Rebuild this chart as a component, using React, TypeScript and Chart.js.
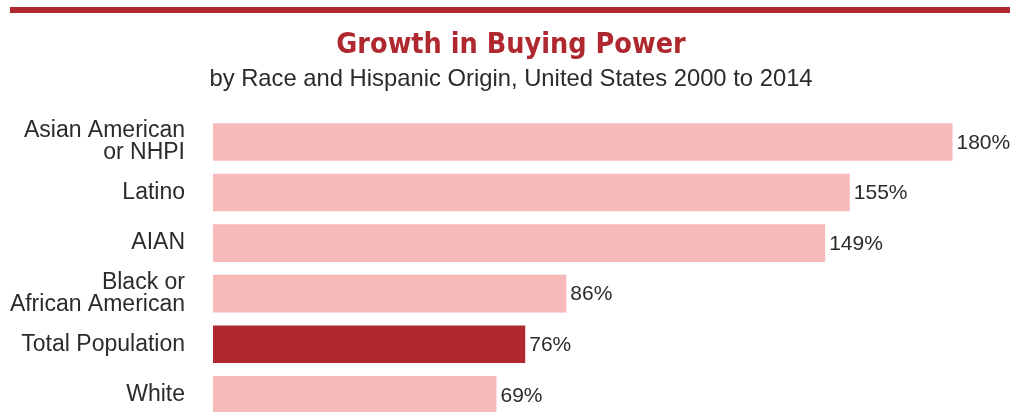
import React, { useEffect, useRef } from "react";
import { Chart, registerables } from "chart.js";

Chart.register(...registerables);

const categories: (string | string[])[] = [
  ["Asian American", "or NHPI"],
  "Latino",
  "AIAN",
  ["Black or", "African American"],
  "Total Population",
  "White",
];
const growthValues: number[] = [180, 155, 149, 86, 76, 69];
const highlightCategory = "Total Population";

const TITLE = "Growth in Buying Power";
const SUBTITLE = "by Race and Hispanic Origin, United States 2000 to 2014";

const PINK = "#F8B9BA";
const DARK_RED = "#B0282F";
const TEXT = "#2b2b2b";

const topRulePlugin = {
  id: "topRule",
  beforeDraw(chart: any) {
    const ctx = chart.ctx;
    ctx.save();
    ctx.fillStyle = DARK_RED;
    ctx.fillRect(10, 7, chart.width - 10, 6);
    ctx.restore();
  },
};

const valueLabelPlugin = {
  id: "valueLabels",
  afterDatasetsDraw(chart: any) {
    const ctx = chart.ctx;
    const meta = chart.getDatasetMeta(0);
    ctx.save();
    ctx.font = "21px 'Liberation Sans', Arial, sans-serif";
    ctx.fillStyle = TEXT;
    ctx.textAlign = "left";
    ctx.textBaseline = "middle";
    meta.data.forEach((bar: any, i: number) => {
      const v = chart.data.datasets[0].data[i];
      ctx.fillText(v + "%", bar.x + 4, bar.y + 1);
    });
    ctx.restore();
  },
};

export default function App() {
  const canvasRef = useRef<HTMLCanvasElement | null>(null);

  useEffect(() => {
    if (!canvasRef.current) return;
    const colors = categories.map((c) =>
      (Array.isArray(c) ? c.join(" ") : c) === highlightCategory ? DARK_RED : PINK
    );
    const chart = new Chart(canvasRef.current, {
      type: "bar",
      data: {
        labels: categories as any,
        datasets: [
          {
            data: growthValues,
            backgroundColor: colors,
            borderWidth: 0,
            categoryPercentage: 1,
            barPercentage: 0.743,
          },
        ],
      },
      options: {
        indexAxis: "y",
        animation: false,
        responsive: true,
        maintainAspectRatio: false,
        layout: { padding: { top: 28, right: -12, bottom: 1, left: 0 } },
        plugins: {
          legend: { display: false },
          tooltip: { enabled: false },
          title: {
            display: true,
            text: TITLE,
            color: DARK_RED,
            font: {
              family: "'DejaVu Sans Condensed', 'Liberation Sans Narrow', sans-serif",
              size: 28.5,
              weight: "bold",
              lineHeight: 1.2,
            },
            padding: { top: 0, bottom: 3 },
          },
          subtitle: {
            display: true,
            text: SUBTITLE,
            color: TEXT,
            font: {
              family: "'Liberation Sans', Arial, sans-serif",
              size: 23.8,
              weight: "normal",
              lineHeight: 1.2,
            },
            padding: { top: 0, bottom: 23 },
          },
        },
        scales: {
          x: {
            display: false,
            min: 0,
            max: 194,
          },
          y: {
            afterFit(scale: any) {
              scale.width = 213;
              scale.paddingTop = 0;
              scale.paddingBottom = 0;
            },
            grid: { display: false, drawTicks: false },
            border: { display: false },
            ticks: {
              color: TEXT,
              padding: 28,
              font: {
                family: "'Liberation Sans', Arial, sans-serif",
                size: 23,
                lineHeight: 0.95,
              },
            },
          },
        },
      },
      plugins: [topRulePlugin, valueLabelPlugin],
    });
    return () => chart.destroy();
  }, []);

  return (
    <div
      style={{
        position: "fixed",
        top: 0,
        left: 0,
        width: 1010,
        height: 412,
        overflow: "hidden",
        background: "#fff",
      }}
    >
      <div style={{ position: "relative", width: 1010, height: 421 }}>
        <canvas ref={canvasRef} />
      </div>
    </div>
  );
}
